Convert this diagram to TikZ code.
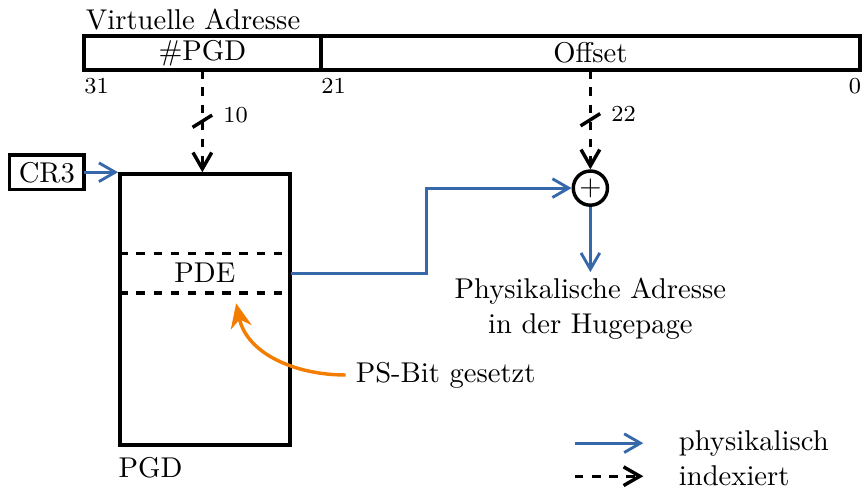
\documentclass[tikz,border=0pt]{standalone}
\usepackage{tikz}
\usetikzlibrary{arrows.meta}
\definecolor{physblue}{RGB}{54,104,170}
\definecolor{psorange}{RGB}{242,125,0}
\tikzset{
  field/.style    = {draw,very thick,minimum height=0.42cm,inner sep=0pt,outer sep=0pt},
  physarr/.style  = {-{Straight Barb[length=2mm,width=2.3mm]},line width=1pt,physblue},
  idxarr/.style   = {-{Straight Barb[length=2mm,width=2.3mm]},very thick,dashed},
  notearr/.style  = {-{Stealth[length=3mm,width=2.6mm]},very thick,psorange},
  bitno/.style    = {font=\footnotesize,inner xsep=0pt,inner ysep=2.5pt},
  slash/.style    = {very thick}
}

\begin{document}
\begin{tikzpicture}
  \useasboundingbox (0,0) rectangle (10.61,5.995);
  % virtuelle Adresse
  \node[field,minimum width=2.91cm,anchor=north west] (pgdf) at (1.03,5.553) {\#PGD};
  \node[field,minimum width=6.62cm,anchor=west] (offf) at (pgdf.east) {Offset};
  \node[anchor=south west,inner xsep=0.5pt,inner ysep=2pt] (va) at (pgdf.north west) {Virtuelle Adresse};
  \node[bitno,anchor=north west] (b31) at (pgdf.south west) {31};
  \node[bitno,anchor=north west] (b21) at (offf.south west) {21};
  \node[bitno,anchor=north east] (b0) at ([xshift=0.02cm]offf.south east) {0};
  % PGD
  \node[draw,very thick,minimum width=2.09cm,minimum height=3.33cm,anchor=north west] (pgdtab) at (1.45,3.88) {};
  \node[anchor=north west,inner xsep=0pt] (pgdlbl) at (pgdtab.south west) {PGD};
  \node[minimum width=2.09cm,minimum height=0.41cm] (pde) at (pgdtab.center |- 0,2.64) {PDE};
  \draw[very thick,dashed] (pde.north west) -- (pde.north east)
                           (pde.south west) -- (pde.south east);
  \node[field,minimum width=0.91cm] (cr3) at (0.575,3.88) {CR3};
  \draw[physarr] (cr3.east) -- (pgdtab.north west);
  % Index
  \draw[idxarr] (pgdf.south) -- coordinate[pos=0.5] (s1) (pgdf.south |- pgdtab.north);
  \draw[slash] ([shift={(-0.12,-0.075)}]s1) -- ([shift={(0.12,0.075)}]s1)
    node[right,font=\footnotesize] (n10) {10};
  % Summe
  \node[circle,draw,very thick,minimum size=0.42cm,inner sep=0pt] (sum) at (offf.south |- 0,3.685) {$+$};
  \draw[idxarr] (offf.south) -- coordinate[pos=0.5] (s2) (sum.north);
  \draw[slash] ([shift={(-0.12,-0.075)}]s2) -- ([shift={(0.12,0.075)}]s2)
    node[right,font=\footnotesize] (n22) {22};
  \draw[physarr] (pde.east) -- ++(1.67,0) |- (sum.west);
  \coordinate (phyend) at ([yshift=-0.8cm]sum.south);
  \draw[physarr] (sum.south) -- (phyend);
  \node[below,align=center,inner sep=2pt] (phy) at (phyend) {Physikalische Adresse\\in der Hugepage};
  % PS-Bit
  \node[anchor=west] (ps) at (4.245,1.39) {PS-Bit gesetzt};
  \coordinate (pstip) at (2.90,2.27);
  \draw[notearr] (ps.west) to[out=180,in=-78] (pstip);
  % Legende
  \coordinate (l1) at (7.06,0.553);
  \coordinate (l1e) at (7.90,0.553);
  \coordinate (l2) at (7.06,0.147);
  \coordinate (l2e) at (7.90,0.147);
  \draw[physarr] (l1) -- (l1e);
  \draw[idxarr] (l2) -- (l2e);
  \node[anchor=base west,inner sep=0pt] (lphys) at (8.33,0.467) {physikalisch};
  \node[anchor=base west,inner sep=0pt] (lidx) at (8.33,0.037) {indexiert};
\end{tikzpicture}
\end{document}
